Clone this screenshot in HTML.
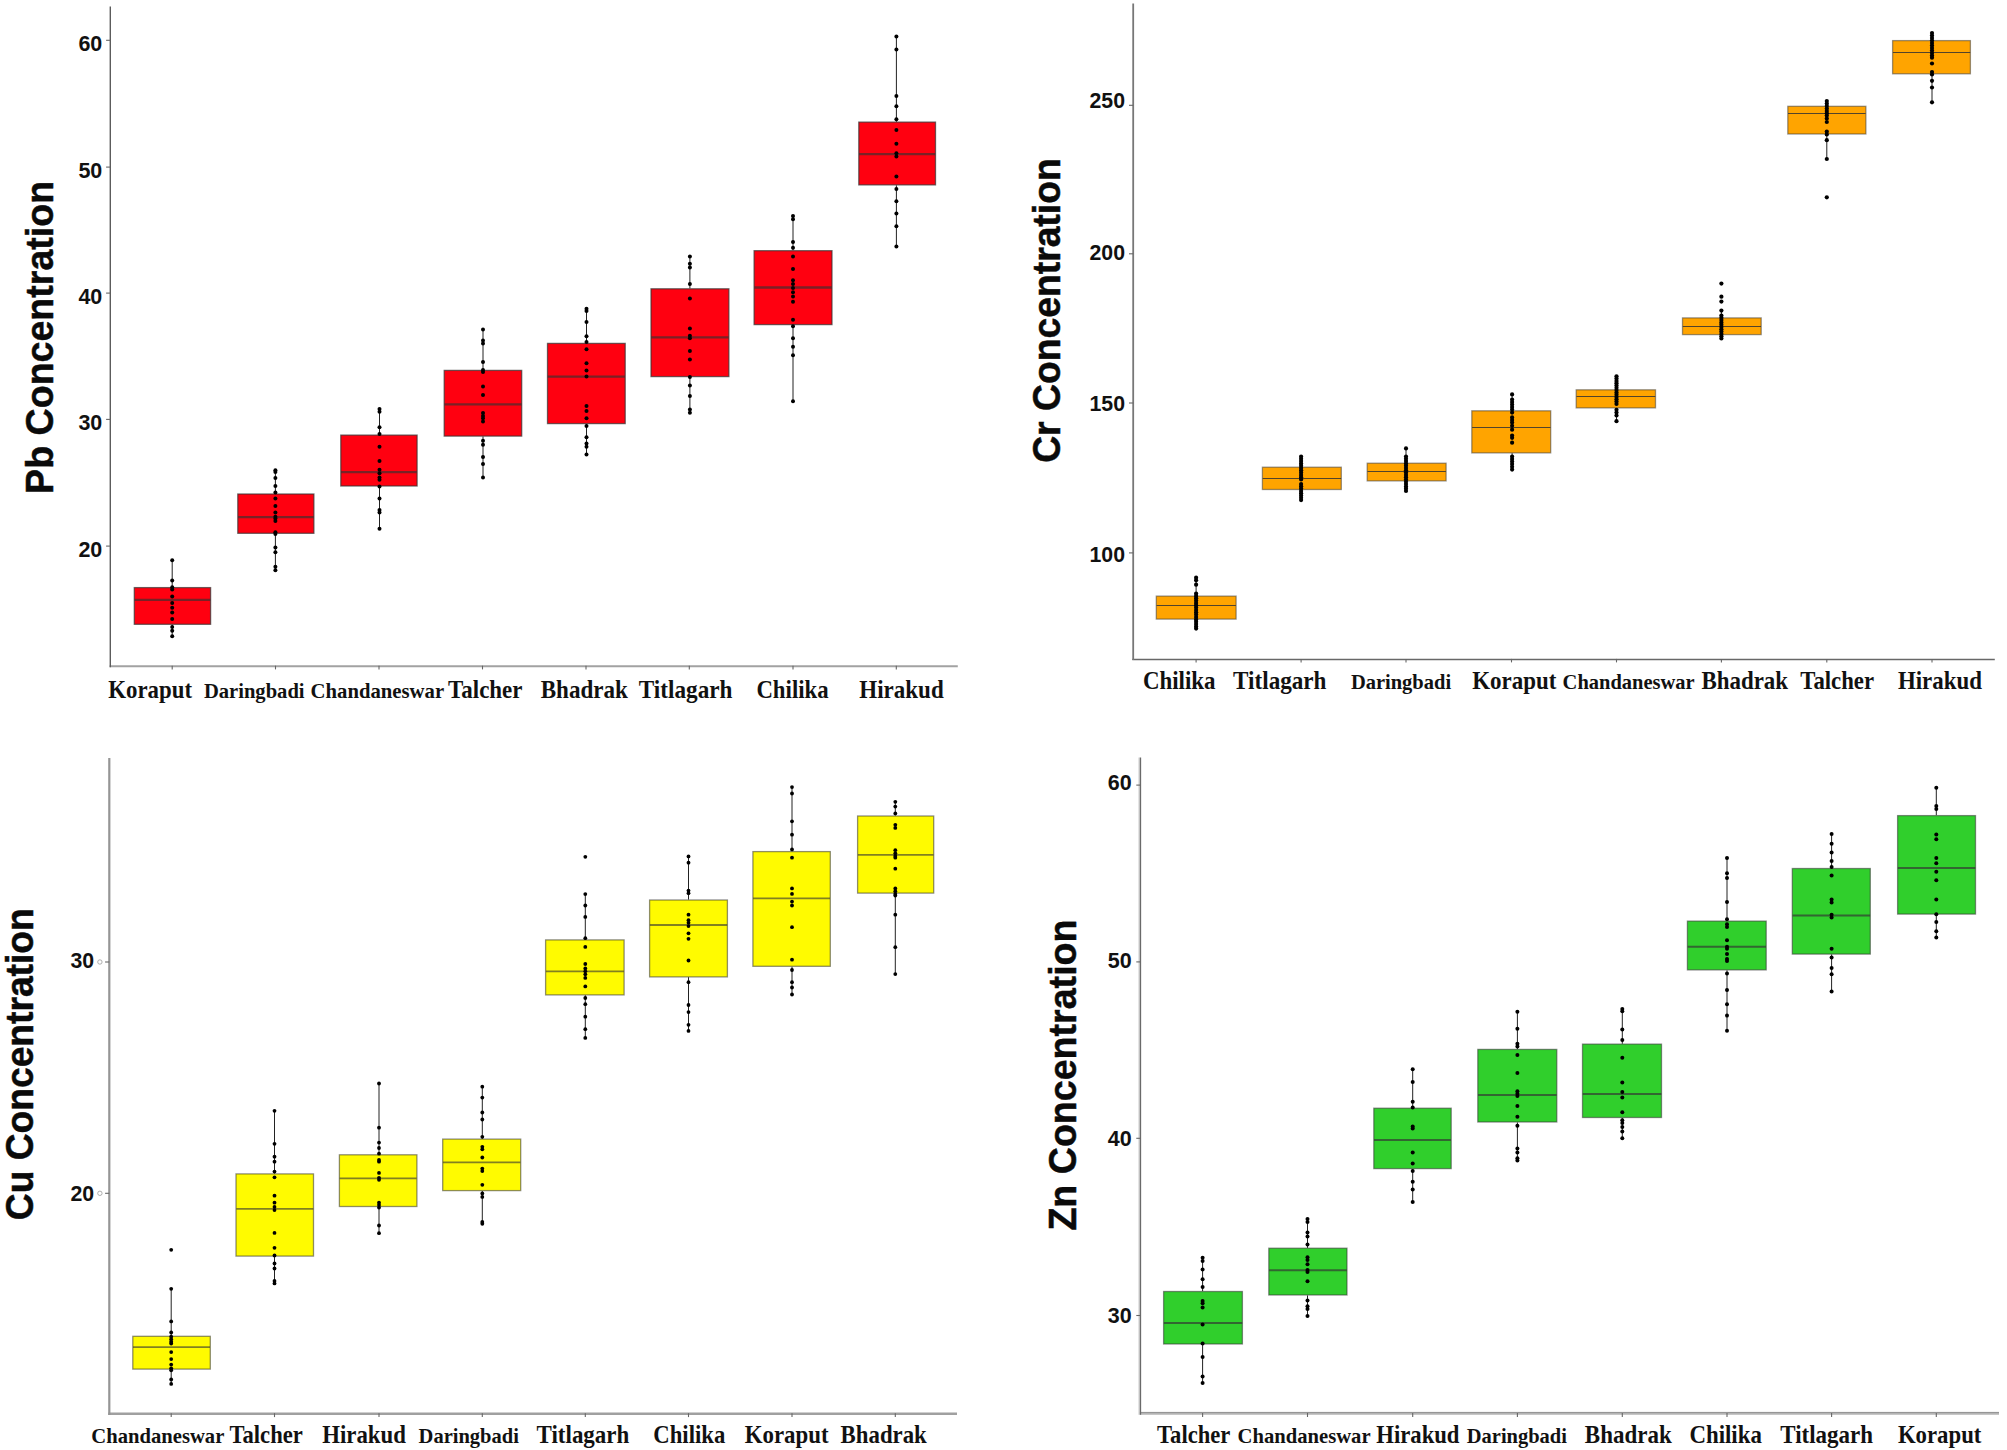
<!DOCTYPE html>
<html lang="en">
<head>
<meta charset="utf-8">
<title>Heavy metal concentration boxplots</title>
<style>
html,body{margin:0;padding:0;background:#fff;}
body{width:2007px;height:1450px;overflow:hidden;}
svg{display:block;}
.xl{font-family:"Liberation Serif","DejaVu Serif",serif;font-weight:bold;fill:#111;}
.tk{font-family:"Liberation Sans","DejaVu Sans",sans-serif;font-weight:bold;fill:#111;}
.tt{font-family:"Liberation Sans","DejaVu Sans",sans-serif;font-weight:bold;fill:#0a0a0a;stroke:#0a0a0a;stroke-width:.5;}
.ax{stroke:#666;stroke-width:1.4;fill:none;}
.tm{stroke:#666;stroke-width:1.1;fill:none;}
.bx{stroke:#333;stroke-width:1.3;}
.md{stroke:#333;}
.wh{stroke:#222;stroke-width:1;}
.pt{fill:#000;}
</style>
</head>
<body>
<svg width="2007" height="1450" viewBox="0 0 2007 1450">
<rect width="2007" height="1450" fill="#fff"/>
<g id="panel-pb">
<path d="M109.6 666.2H957.8" stroke="#a2a2a2" stroke-width="2.0" fill="none"/><path d="M110.3 6.4V667.2" stroke="#5c5c5c" stroke-width="1.4" fill="none"/>
<path class="tm" d="M106.1 40.3H110.3"/><text class="tk" x="78.4" y="50.7" font-size="22" textLength="23.9" lengthAdjust="spacingAndGlyphs">60</text>
<path class="tm" d="M106.1 167.1H110.3"/><text class="tk" x="78.4" y="177.5" font-size="22" textLength="23.9" lengthAdjust="spacingAndGlyphs">50</text>
<path class="tm" d="M106.1 293.1H110.3"/><text class="tk" x="78.4" y="303.7" font-size="22" textLength="23.9" lengthAdjust="spacingAndGlyphs">40</text>
<path class="tm" d="M106.1 419.4H110.3"/><text class="tk" x="78.4" y="430.3" font-size="22" textLength="23.9" lengthAdjust="spacingAndGlyphs">30</text>
<path class="tm" d="M106.1 546.1H110.3"/><text class="tk" x="78.4" y="556.8" font-size="22" textLength="23.9" lengthAdjust="spacingAndGlyphs">20</text>
<path class="tm" d="M172.2 665.7V669.4"/><path class="tm" d="M275.5 665.7V669.4"/><path class="tm" d="M379 665.7V669.4"/><path class="tm" d="M482.5 665.7V669.4"/><path class="tm" d="M586 665.7V669.4"/><path class="tm" d="M689.3 665.7V669.4"/><path class="tm" d="M793 665.7V669.4"/><path class="tm" d="M896.3 665.7V669.4"/>
<text class="tt" transform="translate(52.7 493.9) rotate(-90)" font-size="38.5" textLength="313.1" lengthAdjust="spacingAndGlyphs">Pb Concentration</text>
<g><path class="wh" d="M172.2 560.2V587.2M172.2 624.6V636.2"/><rect class="bx" x="134.3" y="587.6" width="76.3" height="36.7" fill="#ff0010" stroke-opacity="0.7"/><path class="md" d="M134.6 599.8H210.4" stroke-opacity="0.65" stroke-width="2.3"/><g class="pt"><circle cx="172.2" cy="560.2" r="2.0"/><circle cx="172.2" cy="580.5" r="2.0"/><circle cx="172.2" cy="587.2" r="2.0"/><circle cx="172.2" cy="589.6" r="2.0"/><circle cx="172.2" cy="596.4" r="2.0"/><circle cx="172.2" cy="602.9" r="2.0"/><circle cx="172.2" cy="607.7" r="2.0"/><circle cx="172.2" cy="612.6" r="2.0"/><circle cx="172.2" cy="619.1" r="2.0"/><circle cx="172.2" cy="627.1" r="2.0"/><circle cx="172.2" cy="630.7" r="2.0"/><circle cx="172.2" cy="636.2" r="2.0"/></g></g>
<g><path class="wh" d="M275.4 470.2V493.6M275.4 533.6V570.8"/><rect class="bx" x="237.8" y="494" width="76.1" height="39.3" fill="#ff0010" stroke-opacity="0.7"/><path class="md" d="M238.1 517.2H313.7" stroke-opacity="0.65" stroke-width="2.3"/><g class="pt"><circle cx="275.4" cy="470.2" r="2.0"/><circle cx="275.4" cy="471.9" r="2.0"/><circle cx="275.4" cy="477.9" r="2.0"/><circle cx="275.4" cy="485.9" r="2.0"/><circle cx="275.4" cy="492.6" r="2.0"/><circle cx="275.4" cy="498.4" r="2.0"/><circle cx="275.4" cy="505.9" r="2.0"/><circle cx="275.4" cy="512.4" r="2.0"/><circle cx="275.4" cy="516.8" r="2.0"/><circle cx="275.4" cy="518.4" r="2.0"/><circle cx="275.4" cy="520.9" r="2.0"/><circle cx="275.4" cy="532.2" r="2.0"/><circle cx="275.4" cy="534.1" r="2.0"/><circle cx="275.4" cy="547.4" r="2.0"/><circle cx="275.4" cy="552.2" r="2.0"/><circle cx="275.4" cy="566.7" r="2.0"/><circle cx="275.4" cy="570.3" r="2.0"/></g></g>
<g><path class="wh" d="M379.5 408.6V434.7M379.5 486.3V529.3"/><rect class="bx" x="340.8" y="435.1" width="76.3" height="50.9" fill="#ff0010" stroke-opacity="0.7"/><path class="md" d="M341 472.1H416.8" stroke-opacity="0.65" stroke-width="2.3"/><g class="pt"><circle cx="379.5" cy="409.1" r="2.0"/><circle cx="379.5" cy="411.8" r="2.0"/><circle cx="379.5" cy="427.2" r="2.0"/><circle cx="379.5" cy="434" r="2.0"/><circle cx="379.5" cy="446.8" r="2.0"/><circle cx="379.5" cy="461" r="2.0"/><circle cx="379.5" cy="469.7" r="2.0"/><circle cx="379.5" cy="473.3" r="2.0"/><circle cx="379.5" cy="477.4" r="2.0"/><circle cx="379.5" cy="479.8" r="2.0"/><circle cx="379.5" cy="486.6" r="2.0"/><circle cx="379.5" cy="498.6" r="2.0"/><circle cx="379.5" cy="510" r="2.0"/><circle cx="379.5" cy="512.4" r="2.0"/><circle cx="379.5" cy="528.8" r="2.0"/></g></g>
<g><path class="wh" d="M483 329.4V370M483 436.4V477.4"/><rect class="bx" x="444.2" y="370.4" width="77.5" height="65.7" fill="#ff0010" stroke-opacity="0.7"/><path class="md" d="M444.5 404.3H521.5" stroke-opacity="0.65" stroke-width="2.3"/><g class="pt"><circle cx="483" cy="329.4" r="2.0"/><circle cx="483" cy="340.5" r="2.0"/><circle cx="483" cy="343.4" r="2.0"/><circle cx="483" cy="362" r="2.0"/><circle cx="483" cy="370" r="2.0"/><circle cx="483" cy="371.9" r="2.0"/><circle cx="483" cy="386.4" r="2.0"/><circle cx="483" cy="394.9" r="2.0"/><circle cx="483" cy="413" r="2.0"/><circle cx="483" cy="415.9" r="2.0"/><circle cx="483" cy="418.3" r="2.0"/><circle cx="483" cy="421.4" r="2.0"/><circle cx="483" cy="440.7" r="2.0"/><circle cx="483" cy="444.8" r="2.0"/><circle cx="483" cy="456.9" r="2.0"/><circle cx="483" cy="464.1" r="2.0"/><circle cx="483" cy="477.4" r="2.0"/></g></g>
<g><path class="wh" d="M586.5 308.7V343M586.5 423.9V454.6"/><rect class="bx" x="547.5" y="343.4" width="77.7" height="80.2" fill="#ff0010" stroke-opacity="0.7"/><path class="md" d="M547.7 376.6H624.9" stroke-opacity="0.65" stroke-width="2.3"/><g class="pt"><circle cx="586.5" cy="308.7" r="2.0"/><circle cx="586.5" cy="310.9" r="2.0"/><circle cx="586.5" cy="322" r="2.0"/><circle cx="586.5" cy="336.3" r="2.0"/><circle cx="586.5" cy="342" r="2.0"/><circle cx="586.5" cy="349.3" r="2.0"/><circle cx="586.5" cy="363.3" r="2.0"/><circle cx="586.5" cy="370.6" r="2.0"/><circle cx="586.5" cy="376.6" r="2.0"/><circle cx="586.5" cy="406.1" r="2.0"/><circle cx="586.5" cy="410.9" r="2.0"/><circle cx="586.5" cy="418.2" r="2.0"/><circle cx="586.5" cy="426.1" r="2.0"/><circle cx="586.5" cy="437.2" r="2.0"/><circle cx="586.5" cy="443.5" r="2.0"/><circle cx="586.5" cy="446.7" r="2.0"/><circle cx="586.5" cy="454.6" r="2.0"/></g></g>
<g><path class="wh" d="M689.9 256.4V288.4M689.9 376.9V412.8"/><rect class="bx" x="651" y="288.8" width="77.9" height="87.8" fill="#ff0010" stroke-opacity="0.7"/><path class="md" d="M651.2 337.3H728.6" stroke-opacity="0.65" stroke-width="2.3"/><g class="pt"><circle cx="689.9" cy="256.4" r="2.0"/><circle cx="689.9" cy="263.7" r="2.0"/><circle cx="689.9" cy="267.5" r="2.0"/><circle cx="689.9" cy="284" r="2.0"/><circle cx="689.9" cy="298.6" r="2.0"/><circle cx="689.9" cy="328.4" r="2.0"/><circle cx="689.9" cy="335.7" r="2.0"/><circle cx="689.9" cy="338.2" r="2.0"/><circle cx="689.9" cy="350.9" r="2.0"/><circle cx="689.9" cy="359.5" r="2.0"/><circle cx="689.9" cy="376.9" r="2.0"/><circle cx="689.9" cy="385.5" r="2.0"/><circle cx="689.9" cy="396" r="2.0"/><circle cx="689.9" cy="409.6" r="2.0"/><circle cx="689.9" cy="412.8" r="2.0"/></g></g>
<g><path class="wh" d="M793 216.1V250.3M793 324.9V401.3"/><rect class="bx" x="754.1" y="250.7" width="77.9" height="73.9" fill="#ff0010" stroke-opacity="0.7"/><path class="md" d="M754.3 287.5H831.7" stroke-opacity="0.65" stroke-width="2.3"/><g class="pt"><circle cx="793" cy="216.1" r="2.0"/><circle cx="793" cy="219.2" r="2.0"/><circle cx="793" cy="242.1" r="2.0"/><circle cx="793" cy="247.8" r="2.0"/><circle cx="793" cy="256.4" r="2.0"/><circle cx="793" cy="269" r="2.0"/><circle cx="793" cy="280.2" r="2.0"/><circle cx="793" cy="284" r="2.0"/><circle cx="793" cy="288.1" r="2.0"/><circle cx="793" cy="292.2" r="2.0"/><circle cx="793" cy="296.6" r="2.0"/><circle cx="793" cy="301.7" r="2.0"/><circle cx="793" cy="319.8" r="2.0"/><circle cx="793" cy="326.2" r="2.0"/><circle cx="793" cy="338.2" r="2.0"/><circle cx="793" cy="346.8" r="2.0"/><circle cx="793" cy="355.3" r="2.0"/><circle cx="793" cy="401.3" r="2.0"/></g></g>
<g><path class="wh" d="M896.4 36.5V121.8M896.4 185.3V246.5"/><rect class="bx" x="858.8" y="122.1" width="76.7" height="62.8" fill="#ff0010" stroke-opacity="0.7"/><path class="md" d="M859 154.2H935.2" stroke-opacity="0.65" stroke-width="2.3"/><g class="pt"><circle cx="896.4" cy="36.5" r="2.0"/><circle cx="896.4" cy="49.5" r="2.0"/><circle cx="896.4" cy="96.1" r="2.0"/><circle cx="896.4" cy="106.3" r="2.0"/><circle cx="896.4" cy="119.3" r="2.0"/><circle cx="896.4" cy="130.1" r="2.0"/><circle cx="896.4" cy="143.7" r="2.0"/><circle cx="896.4" cy="153.2" r="2.0"/><circle cx="896.4" cy="156.4" r="2.0"/><circle cx="896.4" cy="176.4" r="2.0"/><circle cx="896.4" cy="189.1" r="2.0"/><circle cx="896.4" cy="201.2" r="2.0"/><circle cx="896.4" cy="213.5" r="2.0"/><circle cx="896.4" cy="226.2" r="2.0"/><circle cx="896.4" cy="246.5" r="2.0"/></g></g>
<text class="xl" x="108.3" y="697.7" font-size="24.8" textLength="83.7" lengthAdjust="spacingAndGlyphs">Koraput</text>
<text class="xl" x="203.9" y="697.7" font-size="22" textLength="100.7" lengthAdjust="spacingAndGlyphs">Daringbadi</text>
<text class="xl" x="310.6" y="697.7" font-size="22" textLength="133.5" lengthAdjust="spacingAndGlyphs">Chandaneswar</text>
<text class="xl" x="448.1" y="697.7" font-size="24.8" textLength="74.4" lengthAdjust="spacingAndGlyphs">Talcher</text>
<text class="xl" x="540.7" y="697.7" font-size="24.8" textLength="87.2" lengthAdjust="spacingAndGlyphs">Bhadrak</text>
<text class="xl" x="638.8" y="697.7" font-size="24.8" textLength="93.7" lengthAdjust="spacingAndGlyphs">Titlagarh</text>
<text class="xl" x="756.4" y="697.7" font-size="24.8" textLength="72.3" lengthAdjust="spacingAndGlyphs">Chilika</text>
<text class="xl" x="859.3" y="697.7" font-size="24.8" textLength="84.4" lengthAdjust="spacingAndGlyphs">Hirakud</text>
</g>
<g id="panel-cr">
<path d="M1132.3 659.4H1994.8" stroke="#686868" stroke-width="1.5" fill="none"/><path d="M1133.2 3.5V660.1" stroke="#777" stroke-width="1.8" fill="none"/>
<path class="tm" d="M1129 105.3H1133.2"/><text class="tk" x="1089.5" y="107.6" font-size="22" textLength="35.5" lengthAdjust="spacingAndGlyphs">250</text>
<path class="tm" d="M1129 253.8H1133.2"/><text class="tk" x="1089.5" y="259.8" font-size="22" textLength="35.5" lengthAdjust="spacingAndGlyphs">200</text>
<path class="tm" d="M1129 403H1133.2"/><text class="tk" x="1089.5" y="410.9" font-size="22" textLength="35.5" lengthAdjust="spacingAndGlyphs">150</text>
<path class="tm" d="M1129 552.9H1133.2"/><text class="tk" x="1089.5" y="561.5" font-size="22" textLength="35.5" lengthAdjust="spacingAndGlyphs">100</text>
<path class="tm" d="M1196.1 658.9V662.4"/><path class="tm" d="M1301.1 658.9V662.4"/><path class="tm" d="M1406 658.9V662.4"/><path class="tm" d="M1511.5 658.9V662.4"/><path class="tm" d="M1616.5 658.9V662.4"/><path class="tm" d="M1721.4 658.9V662.4"/><path class="tm" d="M1826.8 658.9V662.4"/><path class="tm" d="M1932 658.9V662.4"/>
<text class="tt" transform="translate(1059.7 462.8) rotate(-90)" font-size="38.5" textLength="304.5" lengthAdjust="spacingAndGlyphs">Cr Concentration</text>
<g><path class="wh" d="M1196.1 577.7V595.7M1196.1 619.4V629.7"/><rect class="bx" x="1156.3" y="596.1" width="79.8" height="23" fill="#ffa400" stroke-opacity="0.5"/><path class="md" d="M1156.6 605.5H1235.9" stroke-opacity="0.85" stroke-width="1.1"/><g class="pt"><circle cx="1196.1" cy="577.7" r="2.1"/><circle cx="1196.1" cy="580.3" r="2.1"/><circle cx="1196.1" cy="584.7" r="2.1"/><circle cx="1196.1" cy="593.5" r="2.1"/><circle cx="1196.1" cy="595.9" r="2.1"/><circle cx="1196.1" cy="598.2" r="2.1"/><circle cx="1196.1" cy="600.5" r="2.1"/><circle cx="1196.1" cy="602.9" r="2.1"/><circle cx="1196.1" cy="605.2" r="2.1"/><circle cx="1196.1" cy="607.6" r="2.1"/><circle cx="1196.1" cy="610" r="2.1"/><circle cx="1196.1" cy="612.3" r="2.1"/><circle cx="1196.1" cy="614.6" r="2.1"/><circle cx="1196.1" cy="617" r="2.1"/><circle cx="1196.1" cy="619.4" r="2.1"/><circle cx="1196.1" cy="621.7" r="2.1"/><circle cx="1196.1" cy="624" r="2.1"/><circle cx="1196.1" cy="626.4" r="2.1"/><circle cx="1196.1" cy="628.6" r="2.1"/></g></g>
<g><path class="wh" d="M1301.1 456.5V466.8M1301.1 489.8V499.9"/><rect class="bx" x="1262.4" y="467.2" width="78.9" height="22.3" fill="#ffa400" stroke-opacity="0.5"/><path class="md" d="M1262.7 478.5H1341.1" stroke-opacity="0.85" stroke-width="1.1"/><g class="pt"><circle cx="1301.1" cy="456.5" r="2.1"/><circle cx="1301.1" cy="458.8" r="2.1"/><circle cx="1301.1" cy="461.1" r="2.1"/><circle cx="1301.1" cy="463.4" r="2.1"/><circle cx="1301.1" cy="465.7" r="2.1"/><circle cx="1301.1" cy="468" r="2.1"/><circle cx="1301.1" cy="470.3" r="2.1"/><circle cx="1301.1" cy="472.6" r="2.1"/><circle cx="1301.1" cy="474.9" r="2.1"/><circle cx="1301.1" cy="477.2" r="2.1"/><circle cx="1301.1" cy="479.5" r="2.1"/><circle cx="1301.1" cy="484" r="2.1"/><circle cx="1301.1" cy="486.3" r="2.1"/><circle cx="1301.1" cy="488.6" r="2.1"/><circle cx="1301.1" cy="490.9" r="2.1"/><circle cx="1301.1" cy="493.2" r="2.1"/><circle cx="1301.1" cy="495.5" r="2.1"/><circle cx="1301.1" cy="497.8" r="2.1"/><circle cx="1301.1" cy="500.1" r="2.1"/></g></g>
<g><path class="wh" d="M1406 448.4V462.8M1406 481.2V490.9"/><rect class="bx" x="1367.2" y="463.2" width="78.9" height="17.7" fill="#ffa400" stroke-opacity="0.5"/><path class="md" d="M1367.5 471.5H1445.9" stroke-opacity="0.85" stroke-width="1.1"/><g class="pt"><circle cx="1406" cy="448.4" r="2.1"/><circle cx="1406" cy="456.5" r="2.1"/><circle cx="1406" cy="458.8" r="2.1"/><circle cx="1406" cy="461.1" r="2.1"/><circle cx="1406" cy="463.4" r="2.1"/><circle cx="1406" cy="465.7" r="2.1"/><circle cx="1406" cy="468" r="2.1"/><circle cx="1406" cy="470.3" r="2.1"/><circle cx="1406" cy="472.6" r="2.1"/><circle cx="1406" cy="474.9" r="2.1"/><circle cx="1406" cy="477.2" r="2.1"/><circle cx="1406" cy="479.5" r="2.1"/><circle cx="1406" cy="481.8" r="2.1"/><circle cx="1406" cy="484.1" r="2.1"/><circle cx="1406" cy="486.4" r="2.1"/><circle cx="1406" cy="488.7" r="2.1"/><circle cx="1406" cy="491" r="2.1"/></g></g>
<g><path class="wh" d="M1512.1 394.4V410.4M1512.1 453.2V469.6"/><rect class="bx" x="1471.8" y="410.8" width="78.9" height="42.1" fill="#ffa400" stroke-opacity="0.5"/><path class="md" d="M1472.1 427.5H1550.5" stroke-opacity="0.85" stroke-width="1.1"/><g class="pt"><circle cx="1512.1" cy="394.4" r="2.1"/><circle cx="1512.1" cy="399.5" r="2.1"/><circle cx="1512.1" cy="402" r="2.1"/><circle cx="1512.1" cy="404.5" r="2.1"/><circle cx="1512.1" cy="407" r="2.1"/><circle cx="1512.1" cy="409.5" r="2.1"/><circle cx="1512.1" cy="412.6" r="2.1"/><circle cx="1512.1" cy="417.4" r="2.1"/><circle cx="1512.1" cy="420" r="2.1"/><circle cx="1512.1" cy="422.5" r="2.1"/><circle cx="1512.1" cy="425.8" r="2.1"/><circle cx="1512.1" cy="429.7" r="2.1"/><circle cx="1512.1" cy="435.6" r="2.1"/><circle cx="1512.1" cy="437.8" r="2.1"/><circle cx="1512.1" cy="442.7" r="2.1"/><circle cx="1512.1" cy="456.5" r="2.1"/><circle cx="1512.1" cy="459" r="2.1"/><circle cx="1512.1" cy="461.5" r="2.1"/><circle cx="1512.1" cy="464" r="2.1"/><circle cx="1512.1" cy="466.8" r="2.1"/><circle cx="1512.1" cy="469.6" r="2.1"/></g></g>
<g><path class="wh" d="M1616.5 376.3V389.4M1616.5 408.2V421.2"/><rect class="bx" x="1576.2" y="389.8" width="79.3" height="18.1" fill="#ffa400" stroke-opacity="0.5"/><path class="md" d="M1576.5 396.5H1655.3" stroke-opacity="0.85" stroke-width="1.1"/><g class="pt"><circle cx="1616.5" cy="376.3" r="2.1"/><circle cx="1616.5" cy="378.6" r="2.1"/><circle cx="1616.5" cy="380.9" r="2.1"/><circle cx="1616.5" cy="383.2" r="2.1"/><circle cx="1616.5" cy="385.5" r="2.1"/><circle cx="1616.5" cy="387.8" r="2.1"/><circle cx="1616.5" cy="390.1" r="2.1"/><circle cx="1616.5" cy="392.4" r="2.1"/><circle cx="1616.5" cy="394.7" r="2.1"/><circle cx="1616.5" cy="397" r="2.1"/><circle cx="1616.5" cy="399.3" r="2.1"/><circle cx="1616.5" cy="401.6" r="2.1"/><circle cx="1616.5" cy="403.9" r="2.1"/><circle cx="1616.5" cy="409.8" r="2.1"/><circle cx="1616.5" cy="412.5" r="2.1"/><circle cx="1616.5" cy="415.5" r="2.1"/><circle cx="1616.5" cy="421.2" r="2.1"/></g></g>
<g><path class="wh" d="M1721.4 310.6V317.5M1721.4 334.9V338.7"/><rect class="bx" x="1682.5" y="317.9" width="78.7" height="16.7" fill="#ffa400" stroke-opacity="0.5"/><path class="md" d="M1682.8 326.5H1761" stroke-opacity="0.85" stroke-width="1.1"/><g class="pt"><circle cx="1721.4" cy="283.6" r="2.1"/><circle cx="1721.4" cy="296.7" r="2.1"/><circle cx="1721.4" cy="301.6" r="2.1"/><circle cx="1721.4" cy="310.6" r="2.1"/><circle cx="1721.4" cy="315.5" r="2.1"/><circle cx="1721.4" cy="317.8" r="2.1"/><circle cx="1721.4" cy="320.1" r="2.1"/><circle cx="1721.4" cy="322.4" r="2.1"/><circle cx="1721.4" cy="324.7" r="2.1"/><circle cx="1721.4" cy="327" r="2.1"/><circle cx="1721.4" cy="329.3" r="2.1"/><circle cx="1721.4" cy="331.6" r="2.1"/><circle cx="1721.4" cy="333.9" r="2.1"/><circle cx="1721.4" cy="336.2" r="2.1"/><circle cx="1721.4" cy="338.5" r="2.1"/></g></g>
<g><path class="wh" d="M1826.8 101.1V106M1826.8 134.4V159"/><rect class="bx" x="1787.8" y="106.3" width="78.1" height="27.7" fill="#ffa400" stroke-opacity="0.5"/><path class="md" d="M1788 113.5H1865.6" stroke-opacity="0.85" stroke-width="1.1"/><g class="pt"><circle cx="1826.8" cy="101.1" r="2.1"/><circle cx="1826.8" cy="103.5" r="2.1"/><circle cx="1826.8" cy="106" r="2.1"/><circle cx="1826.8" cy="108.5" r="2.1"/><circle cx="1826.8" cy="111" r="2.1"/><circle cx="1826.8" cy="113.3" r="2.1"/><circle cx="1826.8" cy="115.6" r="2.1"/><circle cx="1826.8" cy="118.5" r="2.1"/><circle cx="1826.8" cy="122" r="2.1"/><circle cx="1826.8" cy="131.5" r="2.1"/><circle cx="1826.8" cy="134.4" r="2.1"/><circle cx="1826.8" cy="140.2" r="2.1"/><circle cx="1826.8" cy="159" r="2.1"/><circle cx="1826.8" cy="197.3" r="2.1"/></g></g>
<g><path class="wh" d="M1932 33V40.3M1932 74.2V102.3"/><rect class="bx" x="1892.6" y="40.6" width="77.8" height="33.2" fill="#ffa400" stroke-opacity="0.5"/><path class="md" d="M1892.9 52.5H1970.2" stroke-opacity="0.85" stroke-width="1.1"/><g class="pt"><circle cx="1932" cy="33" r="2.1"/><circle cx="1932" cy="35.5" r="2.1"/><circle cx="1932" cy="38" r="2.1"/><circle cx="1932" cy="40.5" r="2.1"/><circle cx="1932" cy="43" r="2.1"/><circle cx="1932" cy="45.5" r="2.1"/><circle cx="1932" cy="48" r="2.1"/><circle cx="1932" cy="50.5" r="2.1"/><circle cx="1932" cy="53" r="2.1"/><circle cx="1932" cy="55.5" r="2.1"/><circle cx="1932" cy="57.7" r="2.1"/><circle cx="1932" cy="63.5" r="2.1"/><circle cx="1932" cy="72.1" r="2.1"/><circle cx="1932" cy="74.5" r="2.1"/><circle cx="1932" cy="80.8" r="2.1"/><circle cx="1932" cy="87.5" r="2.1"/><circle cx="1932" cy="102.3" r="2.1"/></g></g>
<text class="xl" x="1142.9" y="688.9" font-size="24.8" textLength="72.7" lengthAdjust="spacingAndGlyphs">Chilika</text>
<text class="xl" x="1233.1" y="688.9" font-size="24.8" textLength="93.4" lengthAdjust="spacingAndGlyphs">Titlagarh</text>
<text class="xl" x="1350.9" y="688.9" font-size="22" textLength="100.2" lengthAdjust="spacingAndGlyphs">Daringbadi</text>
<text class="xl" x="1472.2" y="688.9" font-size="24.8" textLength="84.1" lengthAdjust="spacingAndGlyphs">Koraput</text>
<text class="xl" x="1562.6" y="688.9" font-size="22" textLength="132" lengthAdjust="spacingAndGlyphs">Chandaneswar</text>
<text class="xl" x="1701.4" y="688.9" font-size="24.8" textLength="86.7" lengthAdjust="spacingAndGlyphs">Bhadrak</text>
<text class="xl" x="1800.3" y="688.9" font-size="24.8" textLength="73.7" lengthAdjust="spacingAndGlyphs">Talcher</text>
<text class="xl" x="1897.9" y="688.9" font-size="24.8" textLength="84" lengthAdjust="spacingAndGlyphs">Hirakud</text>
</g>
<g id="panel-cu">
<path d="M108.2 1413.7H957" stroke="#a0a0a0" stroke-width="2.4" fill="none"/><path d="M109.3 758V1414.9" stroke="#959595" stroke-width="2.2" fill="none"/>
<path class="tm" d="M105.1 962H109.3"/><circle cx="99.9" cy="962" r="2.2" fill="none" stroke="#9a9a9a" stroke-width=".8"/><text class="tk" x="70.4" y="968" font-size="22" textLength="23.7" lengthAdjust="spacingAndGlyphs">30</text>
<path class="tm" d="M105.1 1193.3H109.3"/><circle cx="99.9" cy="1193.3" r="2.2" fill="none" stroke="#9a9a9a" stroke-width=".8"/><text class="tk" x="70.4" y="1200.8" font-size="22" textLength="23.7" lengthAdjust="spacingAndGlyphs">20</text>
<path class="tm" d="M171.2 1413.2V1417.1"/><path class="tm" d="M274.5 1413.2V1417.1"/><path class="tm" d="M379 1413.2V1417.1"/><path class="tm" d="M482.3 1413.2V1417.1"/><path class="tm" d="M585.3 1413.2V1417.1"/><path class="tm" d="M688.5 1413.2V1417.1"/><path class="tm" d="M792 1413.2V1417.1"/><path class="tm" d="M895.3 1413.2V1417.1"/>
<text class="tt" transform="translate(32.9 1220.2) rotate(-90)" font-size="38.5" textLength="311.9" lengthAdjust="spacingAndGlyphs">Cu Concentration</text>
<g><path class="wh" d="M171.2 1288.8V1336M171.2 1369.5V1383.9"/><rect class="bx" x="132.8" y="1336.3" width="77.5" height="32.8" fill="#fffb00" stroke-opacity="0.55"/><path class="md" d="M133 1347.2H210" stroke-opacity="0.62" stroke-width="1.8"/><g class="pt"><circle cx="171.2" cy="1249.8" r="1.9"/><circle cx="171.2" cy="1288.8" r="1.9"/><circle cx="171.2" cy="1321.4" r="1.9"/><circle cx="171.2" cy="1332.5" r="1.9"/><circle cx="171.2" cy="1336.7" r="1.9"/><circle cx="171.2" cy="1339.2" r="1.9"/><circle cx="171.2" cy="1341.7" r="1.9"/><circle cx="171.2" cy="1343.5" r="1.9"/><circle cx="171.2" cy="1352.1" r="1.9"/><circle cx="171.2" cy="1359.1" r="1.9"/><circle cx="171.2" cy="1364.6" r="1.9"/><circle cx="171.2" cy="1368.3" r="1.9"/><circle cx="171.2" cy="1370.3" r="1.9"/><circle cx="171.2" cy="1379.5" r="1.9"/><circle cx="171.2" cy="1383.9" r="1.9"/></g></g>
<g><path class="wh" d="M274.5 1110.8V1173.6M274.5 1256.5V1283.4"/><rect class="bx" x="236" y="1173.9" width="77.5" height="82.2" fill="#fffb00" stroke-opacity="0.55"/><path class="md" d="M236.3 1208.9H313.3" stroke-opacity="0.62" stroke-width="1.8"/><g class="pt"><circle cx="274.5" cy="1110.8" r="1.9"/><circle cx="274.5" cy="1143.8" r="1.9"/><circle cx="274.5" cy="1156.7" r="1.9"/><circle cx="274.5" cy="1161.7" r="1.9"/><circle cx="274.5" cy="1171.6" r="1.9"/><circle cx="274.5" cy="1177.3" r="1.9"/><circle cx="274.5" cy="1195.7" r="1.9"/><circle cx="274.5" cy="1202.7" r="1.9"/><circle cx="274.5" cy="1206.9" r="1.9"/><circle cx="274.5" cy="1210.1" r="1.9"/><circle cx="274.5" cy="1232.9" r="1.9"/><circle cx="274.5" cy="1247.8" r="1.9"/><circle cx="274.5" cy="1255.5" r="1.9"/><circle cx="274.5" cy="1263.5" r="1.9"/><circle cx="274.5" cy="1268.5" r="1.9"/><circle cx="274.5" cy="1280.9" r="1.9"/><circle cx="274.5" cy="1283.4" r="1.9"/></g></g>
<g><path class="wh" d="M379 1083.5V1154.5M379 1206.9V1233.2"/><rect class="bx" x="339.4" y="1154.8" width="77.5" height="51.7" fill="#fffb00" stroke-opacity="0.55"/><path class="md" d="M339.6 1178.3H416.6" stroke-opacity="0.62" stroke-width="1.8"/><g class="pt"><circle cx="379" cy="1083.5" r="1.9"/><circle cx="379" cy="1127.7" r="1.9"/><circle cx="379" cy="1142.6" r="1.9"/><circle cx="379" cy="1148" r="1.9"/><circle cx="379" cy="1153.7" r="1.9"/><circle cx="379" cy="1159.9" r="1.9"/><circle cx="379" cy="1161.7" r="1.9"/><circle cx="379" cy="1172.9" r="1.9"/><circle cx="379" cy="1177.8" r="1.9"/><circle cx="379" cy="1179.8" r="1.9"/><circle cx="379" cy="1202.7" r="1.9"/><circle cx="379" cy="1205.1" r="1.9"/><circle cx="379" cy="1207.6" r="1.9"/><circle cx="379" cy="1225.5" r="1.9"/><circle cx="379" cy="1233.2" r="1.9"/></g></g>
<g><path class="wh" d="M482.3 1086.7V1138.8M482.3 1191V1223.8"/><rect class="bx" x="442.7" y="1139.1" width="78" height="51.5" fill="#fffb00" stroke-opacity="0.55"/><path class="md" d="M442.9 1162.4H520.4" stroke-opacity="0.62" stroke-width="1.8"/><g class="pt"><circle cx="482.3" cy="1086.7" r="1.9"/><circle cx="482.3" cy="1097.6" r="1.9"/><circle cx="482.3" cy="1112.5" r="1.9"/><circle cx="482.3" cy="1119.5" r="1.9"/><circle cx="482.3" cy="1136.8" r="1.9"/><circle cx="482.3" cy="1146.8" r="1.9"/><circle cx="482.3" cy="1149.3" r="1.9"/><circle cx="482.3" cy="1157.5" r="1.9"/><circle cx="482.3" cy="1168.6" r="1.9"/><circle cx="482.3" cy="1171.1" r="1.9"/><circle cx="482.3" cy="1184.8" r="1.9"/><circle cx="482.3" cy="1193.5" r="1.9"/><circle cx="482.3" cy="1196.9" r="1.9"/><circle cx="482.3" cy="1222" r="1.9"/><circle cx="482.3" cy="1223.8" r="1.9"/></g></g>
<g><path class="wh" d="M585.3 894.1V939.5M585.3 995.2V1037.9"/><rect class="bx" x="545.6" y="939.9" width="78.5" height="55" fill="#fffb00" stroke-opacity="0.55"/><path class="md" d="M545.9 971.3H623.9" stroke-opacity="0.62" stroke-width="1.8"/><g class="pt"><circle cx="585.3" cy="856.8" r="1.9"/><circle cx="585.3" cy="894.1" r="1.9"/><circle cx="585.3" cy="905.5" r="1.9"/><circle cx="585.3" cy="916.9" r="1.9"/><circle cx="585.3" cy="938.2" r="1.9"/><circle cx="585.3" cy="946.9" r="1.9"/><circle cx="585.3" cy="964" r="1.9"/><circle cx="585.3" cy="968.4" r="1.9"/><circle cx="585.3" cy="971.3" r="1.9"/><circle cx="585.3" cy="974.3" r="1.9"/><circle cx="585.3" cy="977.9" r="1.9"/><circle cx="585.3" cy="986.4" r="1.9"/><circle cx="585.3" cy="998" r="1.9"/><circle cx="585.3" cy="1004.2" r="1.9"/><circle cx="585.3" cy="1016.7" r="1.9"/><circle cx="585.3" cy="1029.2" r="1.9"/><circle cx="585.3" cy="1037.9" r="1.9"/></g></g>
<g><path class="wh" d="M688.5 856.4V899.6M688.5 977.2V1030.9"/><rect class="bx" x="649.6" y="900" width="77.8" height="76.9" fill="#fffb00" stroke-opacity="0.55"/><path class="md" d="M649.9 925H727.2" stroke-opacity="0.62" stroke-width="1.8"/><g class="pt"><circle cx="688.5" cy="856.4" r="1.9"/><circle cx="688.5" cy="862.7" r="1.9"/><circle cx="688.5" cy="890.6" r="1.9"/><circle cx="688.5" cy="893.2" r="1.9"/><circle cx="688.5" cy="914.7" r="1.9"/><circle cx="688.5" cy="920.2" r="1.9"/><circle cx="688.5" cy="922.8" r="1.9"/><circle cx="688.5" cy="926.1" r="1.9"/><circle cx="688.5" cy="933.3" r="1.9"/><circle cx="688.5" cy="938.8" r="1.9"/><circle cx="688.5" cy="960.5" r="1.9"/><circle cx="688.5" cy="982.2" r="1.9"/><circle cx="688.5" cy="1005" r="1.9"/><circle cx="688.5" cy="1012.1" r="1.9"/><circle cx="688.5" cy="1024.8" r="1.9"/><circle cx="688.5" cy="1030.9" r="1.9"/></g></g>
<g><path class="wh" d="M792 787.1V851.3M792 966.7V994.5"/><rect class="bx" x="752.9" y="851.6" width="77.4" height="114.7" fill="#fffb00" stroke-opacity="0.55"/><path class="md" d="M753.1 898.3H830" stroke-opacity="0.62" stroke-width="1.8"/><g class="pt"><circle cx="792" cy="787.1" r="1.9"/><circle cx="792" cy="793.5" r="1.9"/><circle cx="792" cy="821.3" r="1.9"/><circle cx="792" cy="834.7" r="1.9"/><circle cx="792" cy="849.4" r="1.9"/><circle cx="792" cy="857.7" r="1.9"/><circle cx="792" cy="888.4" r="1.9"/><circle cx="792" cy="893.9" r="1.9"/><circle cx="792" cy="901.6" r="1.9"/><circle cx="792" cy="905.5" r="1.9"/><circle cx="792" cy="927.2" r="1.9"/><circle cx="792" cy="959.7" r="1.9"/><circle cx="792" cy="970" r="1.9"/><circle cx="792" cy="982.2" r="1.9"/><circle cx="792" cy="987.5" r="1.9"/><circle cx="792" cy="994.5" r="1.9"/></g></g>
<g><path class="wh" d="M895.3 801.8V815.6M895.3 893.4V974.1"/><rect class="bx" x="857.6" y="816" width="76.1" height="77.1" fill="#fffb00" stroke-opacity="0.55"/><path class="md" d="M857.9 854.8H933.5" stroke-opacity="0.62" stroke-width="1.8"/><g class="pt"><circle cx="895.3" cy="801.8" r="1.9"/><circle cx="895.3" cy="806.6" r="1.9"/><circle cx="895.3" cy="813.4" r="1.9"/><circle cx="895.3" cy="824.8" r="1.9"/><circle cx="895.3" cy="827.9" r="1.9"/><circle cx="895.3" cy="850.2" r="1.9"/><circle cx="895.3" cy="853.3" r="1.9"/><circle cx="895.3" cy="855.9" r="1.9"/><circle cx="895.3" cy="857.7" r="1.9"/><circle cx="895.3" cy="868.7" r="1.9"/><circle cx="895.3" cy="888.4" r="1.9"/><circle cx="895.3" cy="891.2" r="1.9"/><circle cx="895.3" cy="893.9" r="1.9"/><circle cx="895.3" cy="895.6" r="1.9"/><circle cx="895.3" cy="914.7" r="1.9"/><circle cx="895.3" cy="947.2" r="1.9"/><circle cx="895.3" cy="974.1" r="1.9"/></g></g>
<text class="xl" x="91.3" y="1442.8" font-size="22" textLength="133" lengthAdjust="spacingAndGlyphs">Chandaneswar</text>
<text class="xl" x="229.5" y="1442.8" font-size="24.8" textLength="73.3" lengthAdjust="spacingAndGlyphs">Talcher</text>
<text class="xl" x="322.2" y="1442.8" font-size="24.8" textLength="83.7" lengthAdjust="spacingAndGlyphs">Hirakud</text>
<text class="xl" x="418.6" y="1442.8" font-size="22" textLength="100.3" lengthAdjust="spacingAndGlyphs">Daringbadi</text>
<text class="xl" x="536.6" y="1442.8" font-size="24.8" textLength="92.7" lengthAdjust="spacingAndGlyphs">Titlagarh</text>
<text class="xl" x="653.3" y="1442.8" font-size="24.8" textLength="72" lengthAdjust="spacingAndGlyphs">Chilika</text>
<text class="xl" x="744.7" y="1442.8" font-size="24.8" textLength="83.9" lengthAdjust="spacingAndGlyphs">Koraput</text>
<text class="xl" x="840.6" y="1442.8" font-size="24.8" textLength="86.2" lengthAdjust="spacingAndGlyphs">Bhadrak</text>
</g>
<g id="panel-zn">
<path d="M1139.2 757.5V1414.8" stroke="#cfcfcf" stroke-width="1.5" fill="none"/><path d="M1139.8 1413.4H1999" stroke="#b4b4b4" stroke-width="2.8" fill="none"/><path d="M1140.5 1412.4H1999" stroke="#8a8a8a" stroke-width=".8" fill="none"/><path d="M1140.5 757.5V1414.8" stroke="#6a6a6a" stroke-width="1.3" fill="none"/>
<path class="tm" d="M1136.3 785.1H1140.5"/><text class="tk" x="1107.7" y="789.6" font-size="22" textLength="23.9" lengthAdjust="spacingAndGlyphs">60</text>
<path class="tm" d="M1136.3 961.9H1140.5"/><text class="tk" x="1107.7" y="967.8" font-size="22" textLength="23.9" lengthAdjust="spacingAndGlyphs">50</text>
<path class="tm" d="M1136.3 1138.3H1140.5"/><text class="tk" x="1107.7" y="1145.7" font-size="22" textLength="23.9" lengthAdjust="spacingAndGlyphs">40</text>
<path class="tm" d="M1136.3 1315.5H1140.5"/><text class="tk" x="1107.7" y="1322.5" font-size="22" textLength="23.9" lengthAdjust="spacingAndGlyphs">30</text>
<path class="tm" d="M1202.6 1412.9V1417"/><path class="tm" d="M1307.5 1412.9V1417"/><path class="tm" d="M1412.7 1412.9V1417"/><path class="tm" d="M1517.4 1412.9V1417"/><path class="tm" d="M1622.3 1412.9V1417"/><path class="tm" d="M1727 1412.9V1417"/><path class="tm" d="M1831.6 1412.9V1417"/><path class="tm" d="M1936.3 1412.9V1417"/>
<text class="tt" transform="translate(1075.5 1230.6) rotate(-90)" font-size="38.5" textLength="311.1" lengthAdjust="spacingAndGlyphs">Zn Concentration</text>
<g><path class="wh" d="M1202.6 1257.8V1291.2M1202.6 1344.4V1383.7"/><rect class="bx" x="1163.6" y="1291.5" width="78.8" height="52.5" fill="#30cf2c" stroke-opacity="0.55"/><path class="md" d="M1163.9 1323.1H1242.2" stroke-opacity="0.68" stroke-width="2.0"/><g class="pt"><circle cx="1202.6" cy="1257.8" r="2.0"/><circle cx="1202.6" cy="1260.9" r="2.0"/><circle cx="1202.6" cy="1269.4" r="2.0"/><circle cx="1202.6" cy="1279.3" r="2.0"/><circle cx="1202.6" cy="1286.9" r="2.0"/><circle cx="1202.6" cy="1301.1" r="2.0"/><circle cx="1202.6" cy="1303.3" r="2.0"/><circle cx="1202.6" cy="1307.6" r="2.0"/><circle cx="1202.6" cy="1324.6" r="2.0"/><circle cx="1202.6" cy="1343.5" r="2.0"/><circle cx="1202.6" cy="1357.1" r="2.0"/><circle cx="1202.6" cy="1376.6" r="2.0"/><circle cx="1202.6" cy="1383.1" r="2.0"/></g></g>
<g><path class="wh" d="M1307.5 1219.1V1247.9M1307.5 1295.4V1316.1"/><rect class="bx" x="1268.8" y="1248.2" width="78.2" height="46.8" fill="#30cf2c" stroke-opacity="0.55"/><path class="md" d="M1269.1 1270.3H1346.8" stroke-opacity="0.68" stroke-width="2.0"/><g class="pt"><circle cx="1307.5" cy="1219.1" r="2.0"/><circle cx="1307.5" cy="1221.9" r="2.0"/><circle cx="1307.5" cy="1232.6" r="2.0"/><circle cx="1307.5" cy="1236.6" r="2.0"/><circle cx="1307.5" cy="1244.5" r="2.0"/><circle cx="1307.5" cy="1257.3" r="2.0"/><circle cx="1307.5" cy="1260.1" r="2.0"/><circle cx="1307.5" cy="1264.3" r="2.0"/><circle cx="1307.5" cy="1270" r="2.0"/><circle cx="1307.5" cy="1272" r="2.0"/><circle cx="1307.5" cy="1281.3" r="2.0"/><circle cx="1307.5" cy="1300.5" r="2.0"/><circle cx="1307.5" cy="1306.2" r="2.0"/><circle cx="1307.5" cy="1309" r="2.0"/><circle cx="1307.5" cy="1316.1" r="2.0"/></g></g>
<g><path class="wh" d="M1412.7 1069.2V1107.9M1412.7 1169V1202.1"/><rect class="bx" x="1373.8" y="1108.2" width="77.4" height="60.4" fill="#30cf2c" stroke-opacity="0.55"/><path class="md" d="M1374 1139.9H1450.9" stroke-opacity="0.68" stroke-width="2.0"/><g class="pt"><circle cx="1412.7" cy="1069.2" r="2.0"/><circle cx="1412.7" cy="1081.9" r="2.0"/><circle cx="1412.7" cy="1101.7" r="2.0"/><circle cx="1412.7" cy="1107.4" r="2.0"/><circle cx="1412.7" cy="1126.6" r="2.0"/><circle cx="1412.7" cy="1128.6" r="2.0"/><circle cx="1412.7" cy="1152.6" r="2.0"/><circle cx="1412.7" cy="1163.4" r="2.0"/><circle cx="1412.7" cy="1171" r="2.0"/><circle cx="1412.7" cy="1181.7" r="2.0"/><circle cx="1412.7" cy="1189.4" r="2.0"/><circle cx="1412.7" cy="1202.1" r="2.0"/></g></g>
<g><path class="wh" d="M1517.4 1011.8V1049.1M1517.4 1122.4V1160.5"/><rect class="bx" x="1477.8" y="1049.4" width="79" height="72.6" fill="#30cf2c" stroke-opacity="0.55"/><path class="md" d="M1478.1 1094.9H1556.6" stroke-opacity="0.68" stroke-width="2.0"/><g class="pt"><circle cx="1517.4" cy="1011.8" r="2.0"/><circle cx="1517.4" cy="1028.7" r="2.0"/><circle cx="1517.4" cy="1043.7" r="2.0"/><circle cx="1517.4" cy="1046.6" r="2.0"/><circle cx="1517.4" cy="1055" r="2.0"/><circle cx="1517.4" cy="1072.9" r="2.0"/><circle cx="1517.4" cy="1091.2" r="2.0"/><circle cx="1517.4" cy="1093.8" r="2.0"/><circle cx="1517.4" cy="1096.1" r="2.0"/><circle cx="1517.4" cy="1106" r="2.0"/><circle cx="1517.4" cy="1116.7" r="2.0"/><circle cx="1517.4" cy="1125.7" r="2.0"/><circle cx="1517.4" cy="1148.4" r="2.0"/><circle cx="1517.4" cy="1152.6" r="2.0"/><circle cx="1517.4" cy="1158.3" r="2.0"/><circle cx="1517.4" cy="1160.5" r="2.0"/></g></g>
<g><path class="wh" d="M1622.3 1009V1043.8M1622.3 1117.9V1138.3"/><rect class="bx" x="1582.5" y="1044.1" width="79" height="73.4" fill="#30cf2c" stroke-opacity="0.55"/><path class="md" d="M1582.8 1094.1H1661.3" stroke-opacity="0.68" stroke-width="2.0"/><g class="pt"><circle cx="1622.3" cy="1009" r="2.0"/><circle cx="1622.3" cy="1011.3" r="2.0"/><circle cx="1622.3" cy="1029.4" r="2.0"/><circle cx="1622.3" cy="1040.1" r="2.0"/><circle cx="1622.3" cy="1057.7" r="2.0"/><circle cx="1622.3" cy="1082.5" r="2.0"/><circle cx="1622.3" cy="1091.9" r="2.0"/><circle cx="1622.3" cy="1097.5" r="2.0"/><circle cx="1622.3" cy="1112.2" r="2.0"/><circle cx="1622.3" cy="1120.2" r="2.0"/><circle cx="1622.3" cy="1123" r="2.0"/><circle cx="1622.3" cy="1127" r="2.0"/><circle cx="1622.3" cy="1131.5" r="2.0"/><circle cx="1622.3" cy="1138.3" r="2.0"/></g></g>
<g><path class="wh" d="M1727 858V920.8M1727 970.3V1030.8"/><rect class="bx" x="1687.4" y="921.1" width="78.8" height="48.8" fill="#30cf2c" stroke-opacity="0.55"/><path class="md" d="M1687.7 946.8H1766" stroke-opacity="0.68" stroke-width="2.0"/><g class="pt"><circle cx="1727" cy="858" r="2.0"/><circle cx="1727" cy="873.2" r="2.0"/><circle cx="1727" cy="878" r="2.0"/><circle cx="1727" cy="902.1" r="2.0"/><circle cx="1727" cy="919.3" r="2.0"/><circle cx="1727" cy="924.2" r="2.0"/><circle cx="1727" cy="927" r="2.0"/><circle cx="1727" cy="940.3" r="2.0"/><circle cx="1727" cy="946.8" r="2.0"/><circle cx="1727" cy="948.8" r="2.0"/><circle cx="1727" cy="953.9" r="2.0"/><circle cx="1727" cy="958.9" r="2.0"/><circle cx="1727" cy="960.9" r="2.0"/><circle cx="1727" cy="973.6" r="2.0"/><circle cx="1727" cy="990.1" r="2.0"/><circle cx="1727" cy="1004.2" r="2.0"/><circle cx="1727" cy="1015.5" r="2.0"/><circle cx="1727" cy="1030.8" r="2.0"/></g></g>
<g><path class="wh" d="M1831.6 833.9V868.1M1831.6 954.4V991.5"/><rect class="bx" x="1792.3" y="868.5" width="78" height="85.6" fill="#30cf2c" stroke-opacity="0.55"/><path class="md" d="M1792.6 915.4H1870.1" stroke-opacity="0.68" stroke-width="2.0"/><g class="pt"><circle cx="1831.6" cy="833.9" r="2.0"/><circle cx="1831.6" cy="843.8" r="2.0"/><circle cx="1831.6" cy="852.6" r="2.0"/><circle cx="1831.6" cy="861.1" r="2.0"/><circle cx="1831.6" cy="867" r="2.0"/><circle cx="1831.6" cy="875.5" r="2.0"/><circle cx="1831.6" cy="899.5" r="2.0"/><circle cx="1831.6" cy="902.4" r="2.0"/><circle cx="1831.6" cy="914.8" r="2.0"/><circle cx="1831.6" cy="917.6" r="2.0"/><circle cx="1831.6" cy="948.8" r="2.0"/><circle cx="1831.6" cy="957.5" r="2.0"/><circle cx="1831.6" cy="968" r="2.0"/><circle cx="1831.6" cy="974.2" r="2.0"/><circle cx="1831.6" cy="991.5" r="2.0"/></g></g>
<g><path class="wh" d="M1936.3 787.8V815.3M1936.3 914.5V937.4"/><rect class="bx" x="1897.6" y="815.6" width="77.9" height="98.5" fill="#30cf2c" stroke-opacity="0.55"/><path class="md" d="M1897.9 867.9H1975.3" stroke-opacity="0.68" stroke-width="2.0"/><g class="pt"><circle cx="1936.3" cy="787.8" r="2.0"/><circle cx="1936.3" cy="805.9" r="2.0"/><circle cx="1936.3" cy="809" r="2.0"/><circle cx="1936.3" cy="834.5" r="2.0"/><circle cx="1936.3" cy="839.3" r="2.0"/><circle cx="1936.3" cy="858" r="2.0"/><circle cx="1936.3" cy="863.3" r="2.0"/><circle cx="1936.3" cy="871.8" r="2.0"/><circle cx="1936.3" cy="880.3" r="2.0"/><circle cx="1936.3" cy="899.5" r="2.0"/><circle cx="1936.3" cy="914.2" r="2.0"/><circle cx="1936.3" cy="921.9" r="2.0"/><circle cx="1936.3" cy="931.2" r="2.0"/><circle cx="1936.3" cy="937.4" r="2.0"/></g></g>
<text class="xl" x="1157.1" y="1442.8" font-size="24.8" textLength="73.2" lengthAdjust="spacingAndGlyphs">Talcher</text>
<text class="xl" x="1237.6" y="1442.8" font-size="22" textLength="133" lengthAdjust="spacingAndGlyphs">Chandaneswar</text>
<text class="xl" x="1376.3" y="1442.8" font-size="24.8" textLength="83.2" lengthAdjust="spacingAndGlyphs">Hirakud</text>
<text class="xl" x="1466.8" y="1442.8" font-size="22" textLength="100.1" lengthAdjust="spacingAndGlyphs">Daringbadi</text>
<text class="xl" x="1584.8" y="1442.8" font-size="24.8" textLength="86.9" lengthAdjust="spacingAndGlyphs">Bhadrak</text>
<text class="xl" x="1689.4" y="1442.8" font-size="24.8" textLength="72.5" lengthAdjust="spacingAndGlyphs">Chilika</text>
<text class="xl" x="1780.3" y="1442.8" font-size="24.8" textLength="92.7" lengthAdjust="spacingAndGlyphs">Titlagarh</text>
<text class="xl" x="1897.9" y="1442.8" font-size="24.8" textLength="83.5" lengthAdjust="spacingAndGlyphs">Koraput</text>
</g>
</svg>
</body>
</html>
